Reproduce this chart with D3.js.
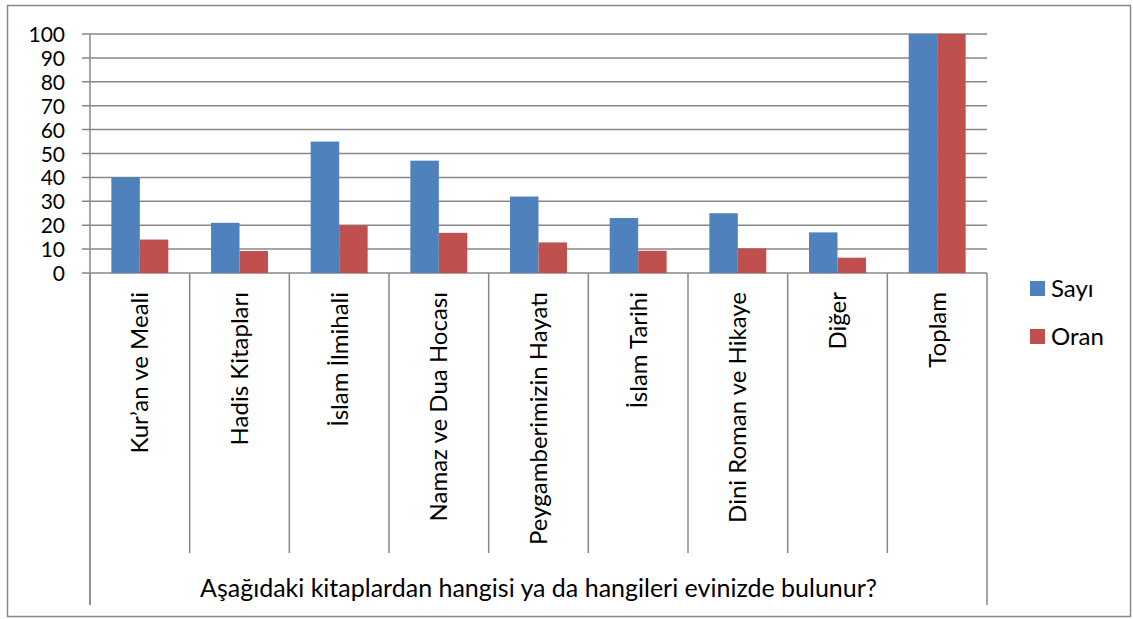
<!DOCTYPE html>
<html>
  <head>
    <meta charset="utf-8">
    <script src="https://d3js.org/d3.v7.min.js"></script>
    <title>Kitaplar</title>
    <style>
      body { margin: 0; background: white; }
      text { font-family: Lato, "Open Sans", sans-serif; fill: #000; }
    </style>
  </head>
  <body>
  <script>
    var categories = ["Kur\u2019an ve Meali", "Hadis Kitapları", "İslam İlmihali", "Namaz ve Dua Hocası",
      "Peygamberimizin Hayatı", "İslam Tarihi", "Dini Roman ve Hikaye", "Diğer", "Toplam"];
    var seriesNames = ["Sayı", "Oran"];
    var sayi = [40, 21, 55, 47, 32, 23, 25, 17, 100];
    var oran = [14, 9.2, 20, 16.8, 12.8, 9.3, 10.3, 6.4, 100];
    var yTicks = [0, 10, 20, 30, 40, 50, 60, 70, 80, 90, 100];
    var axisTitle = "Aşağıdaki kitaplardan hangisi ya da hangileri evinizde bulunur?";
    var colors = ["#4F81BD", "#C0504D"];

    var width = 1133, height = 619;
    var plotL = 90, plotR = 987, plotT = 34, plotB = 273;
    var fs = "24px";

    var svg = d3.select("body").append("svg")
      .attr("width", width)
      .attr("height", height);

    // chart border
    svg.append("rect")
      .attr("x", 7.5).attr("y", 5.5)
      .attr("width", 1123).attr("height", 611)
      .attr("fill", "white")
      .attr("stroke", "#888").attr("stroke-width", 1.5);

    var x = d3.scaleBand().domain(categories).range([plotL, plotR]).padding(0);
    var bw = x.bandwidth() / 3.5;
    var xs = d3.scaleBand().domain(seriesNames)
      .range([bw * 0.75, bw * 2.75]).padding(0);
    var y = d3.scaleLinear().domain([0, 100]).range([plotB, plotT]);

    // gridlines
    svg.append("g").selectAll("line")
      .data(yTicks).enter().append("line")
      .attr("x1", plotL - 8).attr("x2", plotR)
      .attr("y1", function(d) { return y(d); })
      .attr("y2", function(d) { return y(d); })
      .attr("stroke", "#888").attr("stroke-width", 1.5);

    // y axis
    var yAxis = svg.append("g")
      .attr("transform", "translate(" + plotL + ",0)")
      .call(d3.axisLeft(y).tickValues(yTicks).tickSize(0).tickPadding(25));
    yAxis.select(".domain").remove();
    yAxis.selectAll("text")
      .style("font-size", "21px")
      .attr("dy", "0.36em");

    svg.append("line")
      .attr("x1", plotL).attr("x2", plotL)
      .attr("y1", plotT).attr("y2", 605)
      .attr("stroke", "#888").attr("stroke-width", 1.5);

    // bars
    var rows = categories.map(function(c, i) {
      return { cat: c, vals: [sayi[i], oran[i]] };
    });
    var groups = svg.append("g").selectAll("g")
      .data(rows).enter().append("g")
      .attr("transform", function(d) { return "translate(" + x(d.cat) + ",0)"; });
    groups.selectAll("rect")
      .data(function(d) { return d.vals.map(function(v, j) { return { s: seriesNames[j], v: v, j: j }; }); })
      .enter().append("rect")
      .attr("x", function(d) { return xs(d.s); })
      .attr("width", xs.bandwidth())
      .attr("y", function(d) { return y(d.v); })
      .attr("height", function(d) { return plotB - y(d.v); })
      .attr("fill", function(d) { return colors[d.j]; });

    // category dividers
    var divs = categories.map(function(c) { return x(c); }).concat([plotR]);
    svg.append("g").selectAll("line")
      .data(divs).enter().append("line")
      .attr("x1", function(d) { return d; })
      .attr("x2", function(d) { return d; })
      .attr("y1", plotB)
      .attr("y2", function(d, i) { return (i === 0 || i === divs.length - 1) ? 605 : 553; })
      .attr("stroke", "#888").attr("stroke-width", 1.5);

    // category labels
    svg.append("g").selectAll("text")
      .data(categories).enter().append("text")
      .attr("transform", function(d) {
        return "translate(" + (x(d) + x.bandwidth() / 2) + ",292) rotate(-90)";
      })
      .attr("text-anchor", "end")
      .attr("dy", "0.36em")
      .style("font-size", fs)
      .text(function(d) { return d; });

    svg.append("text")
      .attr("x", (plotL + plotR) / 2)
      .attr("y", 597)
      .attr("text-anchor", "middle")
      .style("font-size", "25px")
      .text(axisTitle);

    // legend
    var legend = svg.append("g").selectAll("g")
      .data(seriesNames).enter().append("g")
      .attr("transform", function(d, i) { return "translate(1030," + (281 + i * 48) + ")"; });
    legend.append("rect")
      .attr("width", 15).attr("height", 15)
      .attr("fill", function(d, i) { return colors[i]; });
    legend.append("text")
      .attr("x", 21).attr("y", 7.5)
      .attr("dy", "0.36em")
      .style("font-size", fs)
      .text(function(d) { return d; });
  </script>
</body>
</html>
